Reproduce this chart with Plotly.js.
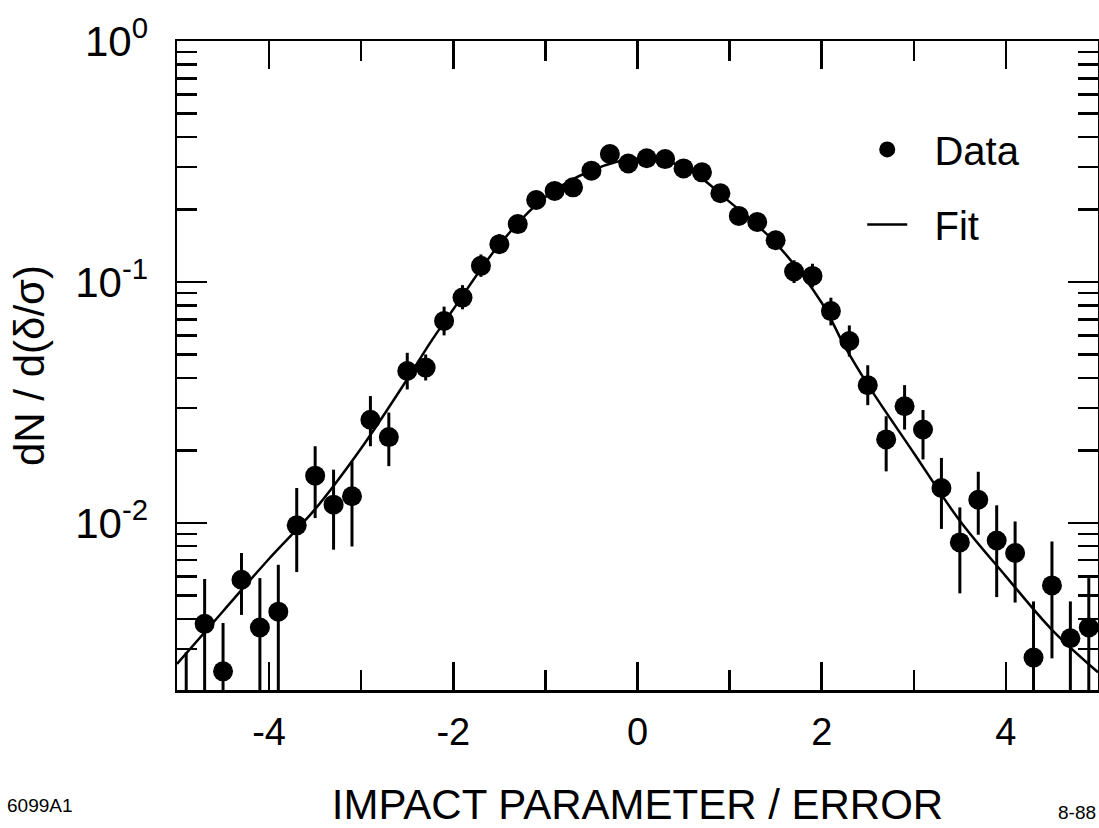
<!DOCTYPE html>
<html>
<head>
<meta charset="utf-8">
<script src="https://cdn.plot.ly/plotly-3.0.1.min.js"></script>
<style>html,body{margin:0;padding:0;background:#fff;}#chart{width:1099px;height:828px;}</style>
</head>
<body>
<div id="chart"></div>
<script>
// Bin centres (impact parameter / error)
const xBins = [-4.9,-4.7,-4.5,-4.3,-4.1,-3.9,-3.7,-3.5,-3.3,-3.1,-2.9,-2.7,-2.5,-2.3,-2.1,-1.9,-1.7,-1.5,-1.3,-1.1,-0.9,-0.7,-0.5,-0.3,-0.1,
               0.1,0.3,0.5,0.7,0.9,1.1,1.3,1.5,1.7,1.9,2.1,2.3,2.5,2.7,2.9,3.1,3.3,3.5,3.7,3.9,4.1,4.3,4.5,4.7,4.9];
// Measured dN/d(delta/sigma)
const yData = [0.0018,0.00381,0.00242,0.00581,0.00368,0.00428,0.00977,0.0157,0.0119,0.0129,0.0268,0.0227,0.0427,0.0441,0.0689,0.0861,0.1166,0.1435,0.1738,0.2188,0.2387,0.247,0.2896,0.3397,0.310,
               0.326,0.3236,0.296,0.285,0.2333,0.188,0.1774,0.149,0.1105,0.1059,0.0757,0.0569,0.0373,0.0222,0.0305,0.0244,0.01396,0.0083,0.01248,0.00845,0.0075,0.00276,0.0055,0.00332,0.00368];
// Upper and lower ends of the error bars
const yHigh = [0.0029,0.00585,0.00384,0.0075,0.0059,0.0067,0.01396,0.0208,0.01663,0.018,0.0336,0.0287,0.0508,0.050,0.079,0.097,0.130,0.158,0.189,0.235,0.255,0.263,0.307,0.358,0.327,
               0.344,0.341,0.313,0.302,0.249,0.202,0.191,0.163,0.123,0.119,0.086,0.066,0.0451,0.0277,0.0373,0.0294,0.0186,0.01159,0.0163,0.01183,0.01014,0.00472,0.00837,0.00472,0.0059];
const yLow  = [0.001,0.001,0.001,0.00415,0.001,0.001,0.00625,0.01047,0.00774,0.00798,0.0208,0.0172,0.0358,0.039,0.060,0.077,0.105,0.131,0.160,0.204,0.223,0.232,0.273,0.322,0.293,
               0.309,0.306,0.280,0.269,0.218,0.175,0.164,0.136,0.099,0.095,0.066,0.049,0.0308,0.01636,0.0244,0.01834,0.00944,0.0051,0.00893,0.00492,0.00467,0.001,0.00274,0.001,0.001];
// Fit curve
const xFit = [-5.0,-4.5,-4.0,-3.5,-3.0,-2.5,-2.25,-2.0,-1.5,-1.0,-0.5,0.0,0.5,1.0,1.5,2.0,2.25,2.5,3.0,3.5,4.0,4.5,5.0];
const yFit = [0.0026,0.0043,0.0071,0.0114,0.0204,0.0395,0.056,0.077,0.143,0.225,0.290,0.325,0.300,0.215,0.145,0.082,0.054,0.0375,0.0195,0.0102,0.0060,0.0036,0.0024];
// Tick labels
const xTickVals = [-4,-2,0,2,4];
const xTickText = ['-4','-2','0','2','4'];
const yTickVals = [1,0.1,0.01];
const yTickText = ['10<sup>0</sup>','10<sup>-1</sup>','10<sup>-2</sup>'];
const yMinorVals = [0.002,0.003,0.004,0.005,0.006,0.007,0.008,0.009,0.02,0.03,0.04,0.05,0.06,0.07,0.08,0.09,0.2,0.3,0.4,0.5,0.6,0.7,0.8,0.9];
const xMinorVals = [-3,-1,1,3];

const errPlus = yHigh.map((h,i)=>h - yData[i]);
const errMinus = yLow.map((l,i)=>yData[i] - l);

const FONT = 'Liberation Sans, Arial, Helvetica, sans-serif';

const traces = [
  {
    x: xBins, y: yData, type: 'scatter', mode: 'markers', name: '\u00a0\u00a0Data',
    legendgroup: 'a',
    marker: {color: '#000', size: 20},
    error_y: {type: 'data', symmetric: false, array: errPlus, arrayminus: errMinus,
              color: '#000', thickness: 3, width: 0}
  },
  {
    x: xFit, y: yFit, type: 'scatter', mode: 'lines', name: '\u00a0\u00a0Fit',
    legendgroup: 'b',
    line: {color: '#000', width: 2.5, shape: 'spline', smoothing: 1}
  }
];

const layout = {
  width: 1099, height: 828,
  margin: {l: 177, r: 1, t: 41, b: 138},
  paper_bgcolor: '#fff', plot_bgcolor: '#fff',
  font: {family: FONT, color: '#000'},
  showlegend: true,
  legend: {x: 0.744, y: 0.883, xanchor: 'left', yanchor: 'top', bgcolor: 'rgba(0,0,0,0)',
           font: {size: 40, family: FONT}, traceorder: 'grouped', tracegroupgap: 20, itemwidth: 40},
  xaxis: {
    range: [-5, 5], tickmode: 'array', tickvals: xTickVals, ticktext: xTickText,
    ticks: 'inside', ticklen: 28, tickwidth: 2.5, tickcolor: '#000',
    showline: true, linewidth: 2.5, linecolor: '#000', mirror: 'allticks',
    showgrid: false, zeroline: false,
    tickfont: {size: 38, family: FONT}, ticklabelstandoff: 7,
    minor: {tickmode: 'array', tickvals: xMinorVals, ticks: 'inside', ticklen: 20, tickwidth: 2.5, tickcolor: '#000', showgrid: false},
    title: {text: 'IMPACT PARAMETER / ERROR', font: {size: 42, family: FONT}, standoff: 40}
  },
  yaxis: {
    type: 'log', range: [-2.6936, 0], tickmode: 'array', tickvals: yTickVals, ticktext: yTickText,
    ticks: 'inside', ticklen: 30, tickwidth: 2.5, tickcolor: '#000',
    showline: true, linewidth: 2.5, linecolor: '#000', mirror: 'allticks',
    showgrid: false, zeroline: false,
    tickfont: {size: 42, family: FONT}, ticklabelstandoff: 18,
    minor: {tickmode: 'array', tickvals: yMinorVals, ticks: 'inside', ticklen: 20, tickwidth: 2.5, tickcolor: '#000', showgrid: false},
    title: {text: 'dN / d(δ/σ)', font: {size: 42, family: FONT}, standoff: 18}
  },
  annotations: [
    {text: '6099A1', xref: 'paper', yref: 'paper', x: -0.1868, y: -0.1787, xanchor: 'left', yanchor: 'middle',
     showarrow: false, font: {size: 19, family: FONT}},
    {text: '8-88', xref: 'paper', yref: 'paper', x: 1.0, y: -0.188, xanchor: 'right', yanchor: 'middle',
     showarrow: false, font: {size: 19, family: FONT}}
  ]
};

Plotly.newPlot('chart', traces, layout, {displayModeBar: false, staticPlot: true});
</script>
</body>
</html>
